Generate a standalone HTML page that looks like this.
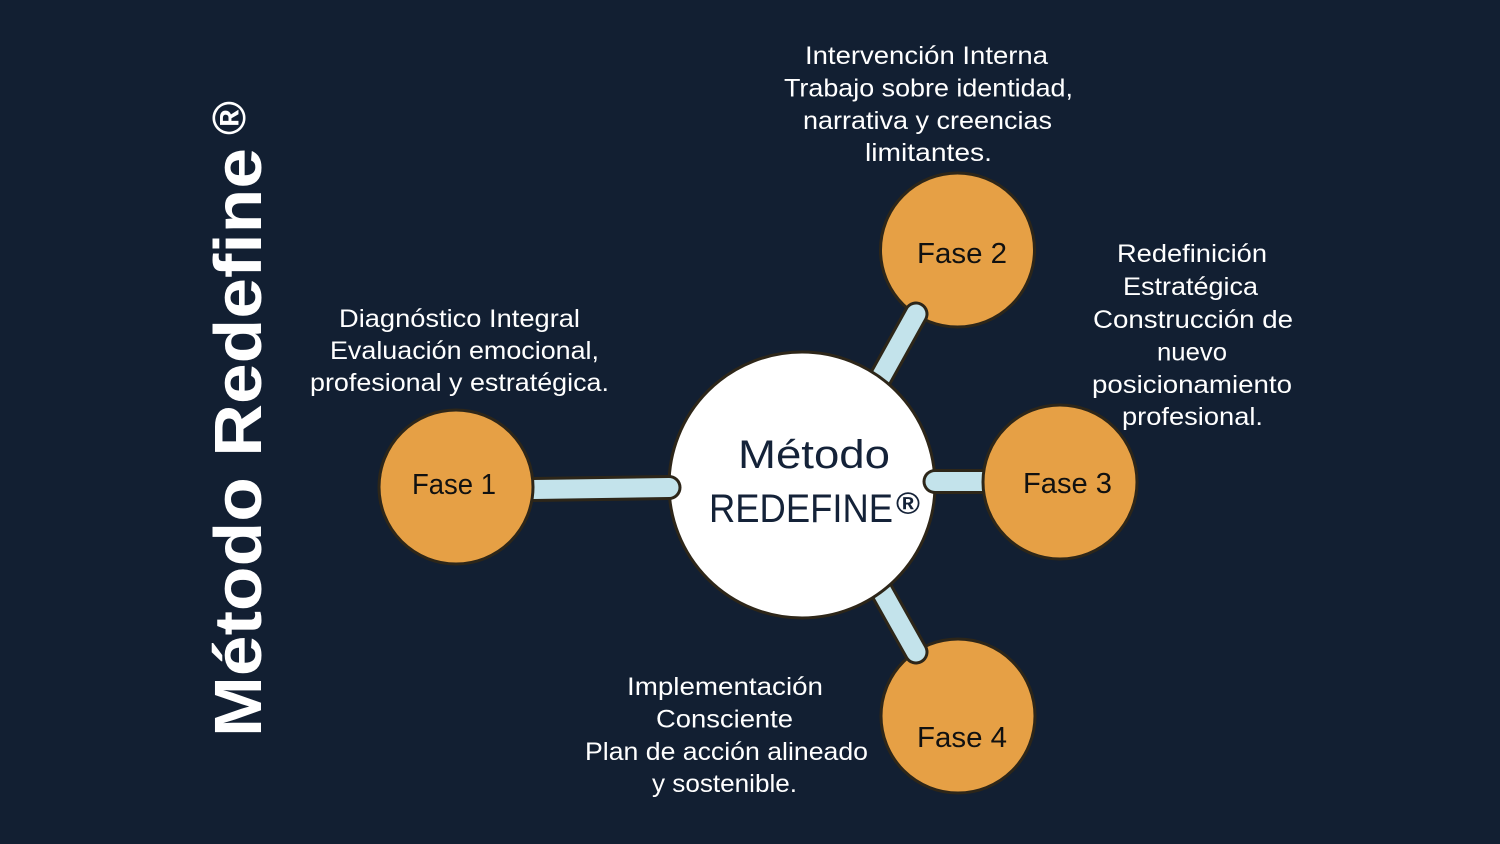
<!DOCTYPE html>
<html>
<head>
<meta charset="utf-8">
<style>
html,body{margin:0;padding:0;background:#121f32;}
svg{display:block;}
text{font-family:"Liberation Sans",Arial,sans-serif;}
.ann{fill:#ffffff;font-size:25px;}
.fase{fill:#111111;font-size:29px;}
</style>
</head>
<body>
<svg width="1500" height="844" viewBox="0 0 1500 844" xmlns="http://www.w3.org/2000/svg">
<rect width="1500" height="844" fill="#121f32"/>

<!-- Vertical title -->
<g transform="translate(261,737) rotate(-90)">
  <text x="0" y="0" font-size="67" font-weight="bold" fill="#ffffff" textLength="589" lengthAdjust="spacingAndGlyphs">Método Redefine</text>
  <text x="602" y="-16" font-size="46" font-weight="bold" fill="#ffffff">®</text>
</g>

<!-- Fase 2 & 4 circles (below their connectors) -->
<circle cx="957.5" cy="250" r="77" fill="#e6a045" stroke="#2d2619" stroke-width="3"/>
<circle cx="958" cy="716" r="77" fill="#e6a045" stroke="#2d2619" stroke-width="3"/>

<!-- connectors 2 & 4 -->
<g stroke-linecap="round" fill="none">
  <line x1="916" y1="314" x2="866" y2="404" stroke="#2d2619" stroke-width="25"/>
  <line x1="916" y1="314" x2="866" y2="404" stroke="#c3e3eb" stroke-width="19"/>
  <line x1="916" y1="652" x2="866" y2="563" stroke="#2d2619" stroke-width="25"/>
  <line x1="916" y1="652" x2="866" y2="563" stroke="#c3e3eb" stroke-width="19"/>
</g>

<!-- central circle -->
<circle cx="802" cy="485" r="133" fill="#ffffff" stroke="#2d2619" stroke-width="3"/>

<!-- connectors 1 & 3 -->
<g stroke-linecap="round" fill="none">
  <line x1="669" y1="487.5" x2="500" y2="490" stroke="#2d2619" stroke-width="25"/>
  <line x1="669" y1="487.5" x2="500" y2="490" stroke="#c3e3eb" stroke-width="19"/>
  <line x1="935" y1="481.5" x2="1010" y2="481.5" stroke="#2d2619" stroke-width="25"/>
  <line x1="935" y1="481.5" x2="1010" y2="481.5" stroke="#c3e3eb" stroke-width="19"/>
</g>

<!-- Fase 1 & 3 circles -->
<circle cx="456" cy="487" r="77" fill="#e6a045" stroke="#2d2619" stroke-width="3"/>
<circle cx="1060" cy="482" r="77" fill="#e6a045" stroke="#2d2619" stroke-width="3"/>

<!-- central text -->
<text x="738" y="468" font-size="40" fill="#142238" textLength="152" lengthAdjust="spacingAndGlyphs">Método</text>
<text x="709" y="522" font-size="40" fill="#142238" textLength="184" lengthAdjust="spacingAndGlyphs">REDEFINE</text>
<text x="896" y="514" font-size="31" font-weight="bold" fill="#142238" textLength="24" lengthAdjust="spacingAndGlyphs">®</text>

<!-- Fase labels -->
<text class="fase" x="412" y="494" textLength="84" lengthAdjust="spacingAndGlyphs">Fase 1</text>
<text class="fase" x="917" y="263" textLength="90" lengthAdjust="spacingAndGlyphs">Fase 2</text>
<text class="fase" x="1023" y="493" textLength="89" lengthAdjust="spacingAndGlyphs">Fase 3</text>
<text class="fase" x="917" y="747" textLength="90" lengthAdjust="spacingAndGlyphs">Fase 4</text>

<!-- Left annotation -->
<text class="ann" x="339" y="327" textLength="241" lengthAdjust="spacingAndGlyphs">Diagnóstico Integral</text>
<text class="ann" x="330" y="359" textLength="269" lengthAdjust="spacingAndGlyphs">Evaluación emocional,</text>
<text class="ann" x="310" y="391" textLength="299" lengthAdjust="spacingAndGlyphs">profesional y estratégica.</text>

<!-- Top annotation -->
<text class="ann" x="805" y="64" textLength="243" lengthAdjust="spacingAndGlyphs">Intervención Interna</text>
<text class="ann" x="784" y="96.5" textLength="289" lengthAdjust="spacingAndGlyphs">Trabajo sobre identidad,</text>
<text class="ann" x="803" y="129" textLength="249" lengthAdjust="spacingAndGlyphs">narrativa y creencias</text>
<text class="ann" x="865" y="161" textLength="127" lengthAdjust="spacingAndGlyphs">limitantes.</text>

<!-- Right annotation -->
<text class="ann" x="1117" y="262" textLength="150" lengthAdjust="spacingAndGlyphs">Redefinición</text>
<text class="ann" x="1123" y="295" textLength="135" lengthAdjust="spacingAndGlyphs">Estratégica</text>
<text class="ann" x="1093" y="328" textLength="200" lengthAdjust="spacingAndGlyphs">Construcción de</text>
<text class="ann" x="1157" y="360.5" textLength="70" lengthAdjust="spacingAndGlyphs">nuevo</text>
<text class="ann" x="1092" y="393" textLength="200" lengthAdjust="spacingAndGlyphs">posicionamiento</text>
<text class="ann" x="1122" y="425" textLength="141" lengthAdjust="spacingAndGlyphs">profesional.</text>

<!-- Bottom annotation -->
<text class="ann" x="627" y="695" textLength="196" lengthAdjust="spacingAndGlyphs">Implementación</text>
<text class="ann" x="656" y="727.5" textLength="137" lengthAdjust="spacingAndGlyphs">Consciente</text>
<text class="ann" x="585" y="760" textLength="283" lengthAdjust="spacingAndGlyphs">Plan de acción alineado</text>
<text class="ann" x="652" y="792" textLength="145" lengthAdjust="spacingAndGlyphs">y sostenible.</text>
</svg>
</body>
</html>
